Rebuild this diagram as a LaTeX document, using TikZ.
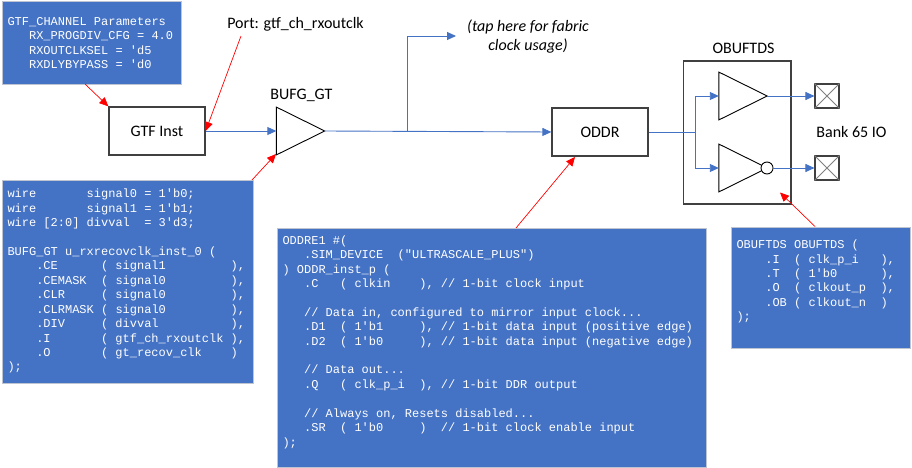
\documentclass[tikz,border=0pt]{standalone}
\usepackage{fontspec}
\usetikzlibrary{arrows.meta}
\setmainfont{Carlito}
\newfontfamily\codefont{Liberation Mono}
\newcommand\cl[1]{\mbox{\frenchspacing\spaceskip=7.2pt\relax #1}}
\definecolor{codeblue}{HTML}{4472C4}
\definecolor{codeedge}{HTML}{BFC5D0}
\definecolor{boxedge}{HTML}{404040}
\tikzset{
  codebox/.style={anchor=north west,fill=codeblue,draw=codeedge,line width=1pt,text=white,
    inner xsep=5pt,inner ysep=0pt,align=left,
    font={\codefont\fontsize{12}{14.42}\selectfont}},
  block/.style={draw=boxedge,line width=1.3pt,fill=white,inner sep=0pt,minimum width=96pt,minimum height=48pt,
    font=\fontsize{16}{19}\selectfont},
  label/.style={inner sep=0pt,font=\fontsize{16}{19}\selectfont},
  ghost/.style={inner sep=0pt,minimum width=48pt,minimum height=47.5pt},
  padbox/.style={draw=boxedge,line width=1.1pt,fill=white,inner sep=0pt,minimum width=24pt,minimum height=24pt},
  sig/.style={draw=codeblue,line width=0.9pt,-{Triangle[length=9pt,width=8pt]}},
  wire/.style={draw=codeblue,line width=0.9pt},
  note/.style={draw=red,line width=0.7pt,-{Triangle[length=9pt,width=8pt]}},
  gate/.style={draw=black,line width=0.9pt,fill=white}
}
\begin{document}
\begin{tikzpicture}[x=1pt,y=-1pt]
\useasboundingbox (0,0) rectangle (912,468);
% code boxes
\node[codebox,text width=169pt,minimum height=83pt] (params) at (2,1) {%
\cl{GTF\_CHANNEL Parameters}\\
\cl{~~~RX\_PROGDIV\_CFG = 4.0}\\
\cl{~~~RXOUTCLKSEL = 'd5}\\
\cl{~~~RXDLYBYPASS = 'd0}};
\node[codebox,text width=241pt,minimum height=203pt] (bufgcode) at (2,180) {%
\cl{wire~~~~~~~signal0 = 1'b0;}\\
\cl{wire~~~~~~~signal1 = 1'b1;}\\
\cl{wire [2:0] divval~~= 3'd3;}\\
\cl{}\\
\cl{BUFG\_GT u\_rxrecovclk\_inst\_0 (}\\
\cl{~~~~.CE~~~~~~( signal1~~~~~~~~~),}\\
\cl{~~~~.CEMASK~~( signal0~~~~~~~~~),}\\
\cl{~~~~.CLR~~~~~( signal0~~~~~~~~~),}\\
\cl{~~~~.CLRMASK ( signal0~~~~~~~~~),}\\
\cl{~~~~.DIV~~~~~( divval~~~~~~~~~~),}\\
\cl{~~~~.I~~~~~~~( gtf\_ch\_rxoutclk ),}\\
\cl{~~~~.O~~~~~~~( gt\_recov\_clk~~~~)}\\
\cl{);}\\[-10.4pt]
\cl{}};
\node[codebox,text width=419pt,minimum height=239pt] (oddrcode) at (277,228) {%
\cl{ODDRE1 \#(}\\
\cl{~~~.SIM\_DEVICE~~("ULTRASCALE\_PLUS")}\\
\cl{) ODDR\_inst\_p (}\\
\cl{~~~.C~~~( clkin~~~~), // 1-bit clock input}\\
\cl{}\\
\cl{~~~// Data in, configured to mirror input clock...}\\
\cl{~~~.D1~~( 1'b1~~~~~), // 1-bit data input (positive edge)}\\
\cl{~~~.D2~~( 1'b0~~~~~), // 1-bit data input (negative edge)}\\
\cl{}\\
\cl{~~~// Data out...}\\
\cl{~~~.Q~~~( clk\_p\_i~~), // 1-bit DDR output}\\
\cl{}\\
\cl{~~~// Always on, Resets disabled...}\\
\cl{~~~.SR~~( 1'b0~~~~~)~~// 1-bit clock enable input}\\
\cl{);}\\
\cl{}};
\node[codebox,text width=169pt,minimum height=121pt] (obufcode) at (731,226.5) {%
\cl{OBUFTDS OBUFTDS (}\\
\cl{~~~~.I~~( clk\_p\_i~~~),}\\
\cl{~~~~.T~~( 1'b0~~~~~~),}\\
\cl{~~~~.O~~( clkout\_p~~),}\\
\cl{~~~~.OB ( clkout\_n~~)}\\
\cl{);}\\
\cl{}};
% blocks
\node[block] (gtf) at (157,131) {GTF Inst};
\node[block] (oddr) at (600,132) {ODDR};
\node[draw=boxedge,line width=1.3pt,inner sep=0pt,minimum width=107.5pt,minimum height=143pt] (obuf) at (737.25,132.5) {};
\node[ghost] (bufg) at (300.5,131) {};
\draw[gate] (bufg.north west) -- (bufg.east) -- (bufg.south west) -- cycle;
\node[ghost] (upper) at (743,96) {};
\node[ghost] (lower) at (743,168) {};
\draw[gate] (upper.north west) -- (upper.east) -- (upper.south west) -- cycle;
\draw[gate] (lower.north west) -- (lower.east) -- (lower.south west) -- cycle;
\node[draw=black,line width=0.9pt,fill=white,circle,inner sep=0pt,minimum size=12pt] (bubble) at (767,168) {};
\node[padbox] (padp) at (827,96) {};
\node[padbox] (padn) at (827,168) {};
\draw[draw=gray,line width=0.8pt] (padp.north west) -- (padp.south east) (padp.north east) -- (padp.south west);
\draw[draw=gray,line width=0.8pt] (padn.north west) -- (padn.south east) (padn.north east) -- (padn.south west);
% labels
\node[label] (portlbl) at (295.5,24) {Port: gtf\_ch\_rxoutclk};
\node[label] (bufglbl) at (301.5,95) {BUFG\_GT};
\node[label] (obuflbl) at (743.5,48) {OBUFTDS};
\node[label] (banklbl) at (851.5,132) {Bank 65 IO};
\node[label,align=center,font={\fontsize{16}{19}\selectfont\itshape}] (taplbl) at (528,36.5) {(tap here for fabric\\clock usage)};
% signals
\coordinate (tap) at (407,131.5);
\coordinate (tapend) at (456,36);
\coordinate (split) at (695,132);
\draw[sig] (gtf.east) -- (bufg.west);
\draw[sig] (bufg.east) -- (oddr.west);
\draw[sig] (tap) |- (tapend);
\draw[wire] (oddr.east) -- (split);
\draw[sig] (split) |- (upper.west);
\draw[sig] (split) |- (lower.west);
\draw[sig] (upper.east) -- (padp.west);
\draw[sig] (bubble.east) -- (padn.west);
% red notes
\coordinate (paramsout) at (85,84);
\coordinate (portout) at (241,36);
\coordinate (bufgout) at (252,180);
\coordinate (bufgin) at (276,154);
\coordinate (oddrout) at (516,228);
\coordinate (oddrin) at (575,157);
\coordinate (obufout) at (815,226.5);
\coordinate (obufin) at (780,192.5);
\draw[note] (paramsout) -- (gtf.north west);
\draw[note] (portout) -- (gtf.east);
\draw[note] (bufgout) -- (bufgin);
\draw[note] (oddrout) -- (oddrin);
\draw[note] (obufout) -- (obufin);
\end{tikzpicture}
\end{document}
